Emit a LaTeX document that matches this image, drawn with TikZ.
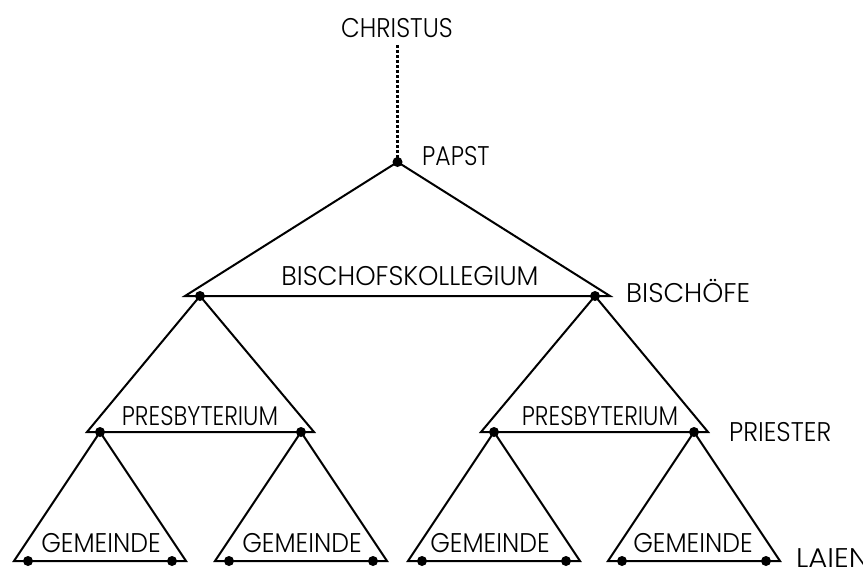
\documentclass[tikz,border=0pt]{standalone}
\usepackage{fontspec}
\setmainfont{Poppins}[UprightFont=* Light]
\newcommand{\sclab}[2]{\scalebox{#1}[1]{#2}}
\begin{document}
\begin{tikzpicture}[x=1pt,y=-1pt,
  edge/.style={line width=2pt,line join=miter,black},
  dot/.style={circle,fill=black,inner sep=0pt,minimum size=10pt},
  lbl/.style={inner sep=0pt,font=\fontsize{27}{27}\selectfont},
  link/.style={line width=2.6pt,dash pattern=on 3pt off 2pt}]
\useasboundingbox (0,0) rectangle (863,566);
% top triangle
\coordinate (P) at (397.5,162);
\coordinate (TL) at (185,296);
\coordinate (TR) at (610,296);
\draw[edge] (P) -- (TL) -- (TR) -- cycle;
\node[dot] (B1) at (200,296) {};
\node[dot] (B2) at (595,296) {};
% presbyterium triangles
\coordinate (L1) at (87,432);  \coordinate (R1) at (314,432);
\coordinate (L2) at (481,432); \coordinate (R2) at (708,432);
\draw[edge] (B1.center) -- (L1) -- (R1) -- cycle;
\draw[edge] (B2.center) -- (L2) -- (R2) -- cycle;
\node[dot] (Q1) at (100,432) {};
\node[dot] (Q2) at (301,432) {};
\node[dot] (Q3) at (494,432) {};
\node[dot] (Q4) at (694,432) {};
% gemeinde triangles
\foreach \q/\x in {Q1/100,Q2/301,Q3/494,Q4/694}{
  \coordinate (\q l) at (\x-86,561);
  \coordinate (\q r) at (\x+86,561);
  \draw[edge] (\q.center) -- (\q l) -- (\q r) -- cycle;
  \node[dot] (\q a) at (\x-72,561) {};
  \node[dot] (\q b) at (\x+72,561) {};
}
\node[dot] (Pd) at (P) {};
% labels
\node[lbl,anchor=base] (christus) at (397,37) {\sclab{0.9}{CHRISTUS}};
\draw[link] (397.5,45) -- (Pd.center);
\node[lbl,anchor=base west] (papst) at (422,165) {\sclab{0.87}{PAPST}};
\node[lbl,anchor=base] (kolleg) at (410,285) {\sclab{0.96}{BISCHOFSKOLLEGIUM}};
\node[lbl,anchor=base west] (bisch) at (626,302) {\sclab{0.99}{BISCHÖFE}};
\node[lbl,anchor=base] (pr1) at (200,425) {\sclab{0.86}{PRESBYTERIUM}};
\node[lbl,anchor=base] (pr2) at (600,425) {\sclab{0.86}{PRESBYTERIUM}};
\node[lbl,anchor=base west] (priester) at (729,441) {\sclab{0.93}{PRIESTER}};
\node[lbl,anchor=base] (g1) at (101,552) {\sclab{0.93}{GEMEINDE}};
\node[lbl,anchor=base] (g2) at (302,552) {\sclab{0.93}{GEMEINDE}};
\node[lbl,anchor=base] (g3) at (490,552) {\sclab{0.93}{GEMEINDE}};
\node[lbl,anchor=base] (g4) at (693,552) {\sclab{0.93}{GEMEINDE}};
\node[lbl,anchor=base west] (laien) at (796,567) {\sclab{1.08}{LAIEN}};
\end{tikzpicture}
\end{document}
